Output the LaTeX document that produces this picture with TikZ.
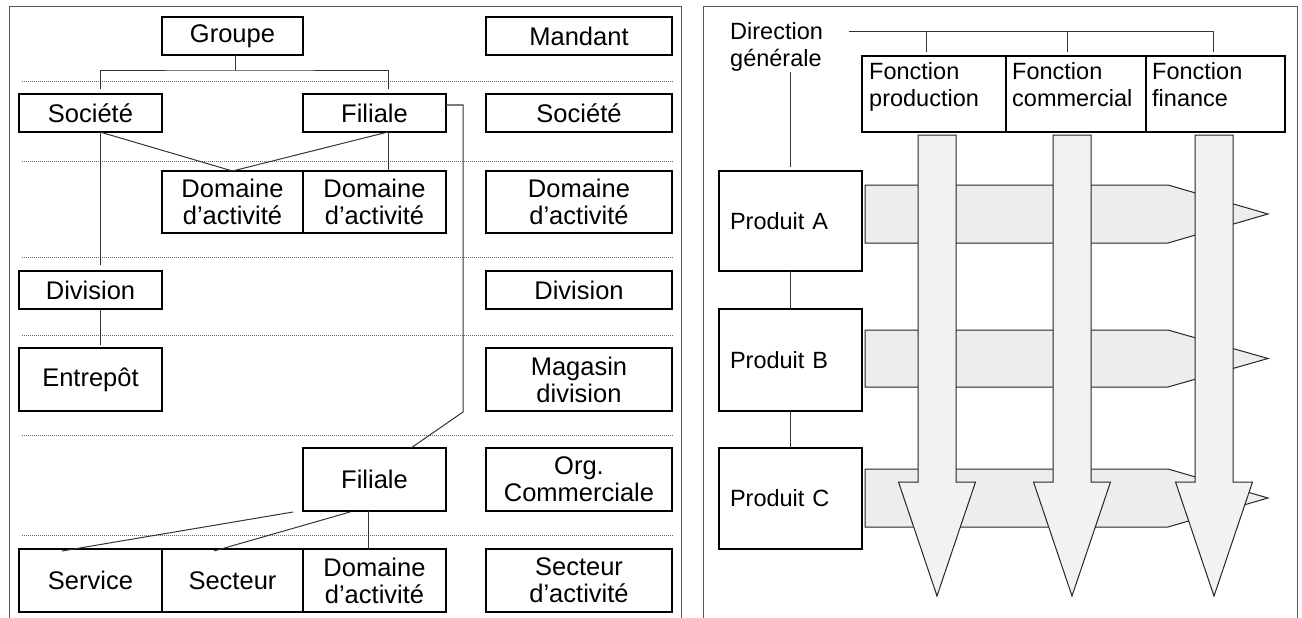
\documentclass[tikz,border=0pt]{standalone}
\usepackage{fontspec}
\setmainfont{Liberation Sans}
\begin{document}
\begin{tikzpicture}[x=1pt,y=-1pt,
  txtL/.style={font=\fontsize{25.5}{27}\selectfont},
  txtR/.style={font=\fontsize{23.5}{27}\selectfont},
  box/.style={draw, line width=1.8pt, inner sep=0pt, outer sep=0pt, align=center, txtL},
  rbox/.style={box, txtR},
  conn/.style={line width=1pt, black!80},
  sep/.style={line width=0.8pt, black!60, dash pattern=on 1pt off 1pt},
  frame/.style={line width=1pt, black!65},
  harrow/.style={draw=black!85, line width=1pt, fill=black!7, line join=miter},
  varrow/.style={draw=black!85, line width=1pt, fill=black!5, line join=miter}]
\useasboundingbox (0,0) rectangle (1302,618);

% frames
\draw[frame] (9,618) -- (9,7) -- (681,7) -- (681,618);
\draw[frame] (703,618) -- (703,7) -- (1297,7) -- (1297,618);

% separators
\foreach \yy in {81,161,257,335,435,535} \draw[sep] (22,\yy) -- (673,\yy);

% left panel boxes
\node[box, minimum width=141pt, minimum height=38pt] (groupe) at (232.5,36) {Groupe};
\node[box, minimum width=186pt, minimum height=38pt] (mandant) at (579,36) {Mandant};
\node[box, minimum width=143pt, minimum height=38pt] (societe) at (90.5,113) {Société};
\node[box, minimum width=143pt, minimum height=38pt] (filiale) at (374.5,113) {Filiale};
\node[box, minimum width=186pt, minimum height=38pt] (societeR) at (579,113) {Société};
\node[box, minimum width=141pt, minimum height=62pt] (dom1) at (232.5,202) {Domaine\\d’activité};
\node[box, minimum width=143pt, minimum height=62pt] (dom2) at (374.5,202) {Domaine\\d’activité};
\node[box, minimum width=186pt, minimum height=62pt] (domR) at (579,202) {Domaine\\d’activité};
\node[box, minimum width=143pt, minimum height=38pt] (division) at (90.5,290) {Division};
\node[box, minimum width=186pt, minimum height=38pt] (divisionR) at (579,290) {Division};
\node[box, minimum width=143pt, minimum height=63pt] (entrepot) at (90.5,379.5) {Entrepôt};
\node[box, minimum width=186pt, minimum height=63pt] (magasin) at (579,379.5) {Magasin\\division};
\node[box, minimum width=143pt, minimum height=63pt] (filiale2) at (374.5,479.5) {Filiale};
\node[box, minimum width=186pt, minimum height=63pt] (org) at (579,479.5) {Org.\\Commerciale};
\node[box, minimum width=143pt, minimum height=63pt] (service) at (90.5,580.5) {Service};
\node[box, minimum width=141pt, minimum height=63pt] (secteur) at (232.5,580.5) {Secteur};
\node[box, minimum width=143pt, minimum height=63pt] (dom4) at (374.5,580.5) {Domaine\\d’activité};
\node[box, minimum width=186pt, minimum height=63pt] (secteurR) at (579,580.5) {Secteur\\d’activité};

% left panel connectors
\draw[conn] ([xshift=2.5pt]groupe.south) -- ++(0,16) coordinate (gj);
\draw[conn] ([xshift=9.5pt,yshift=5pt]societe.north) |- (gj) -| ([xshift=13.5pt,yshift=5pt]filiale.north);
\draw[conn] ([xshift=9.5pt]societe.south) -- (dom1.north);
\draw[conn] ([xshift=13.5pt]filiale.south) -- (dom1.north);
\draw[conn] ([xshift=13.5pt]filiale.south) -- ([xshift=13.5pt]dom2.north);
\draw[conn] ([xshift=9.5pt]societe.south) -- ([xshift=9.5pt,yshift=6pt]division.north);
\draw[conn] ([xshift=9.5pt]division.south) -- ([xshift=9.5pt,yshift=3pt]entrepot.north);
\draw[conn] ([yshift=8pt]filiale.east) -- ++(17,0) -- ++(0,307) -- ([xshift=36.5pt]filiale2.north);
\draw[conn] ([xshift=-81.5pt,yshift=-1pt]filiale2.south) -- ([xshift=-28.5pt,yshift=-2pt]service.north);
\draw[conn] ([xshift=-24.5pt,yshift=-1pt]filiale2.south) -- ([xshift=-18.5pt,yshift=-2pt]secteur.north);
\draw[conn] ([xshift=-6.5pt]filiale2.south) -- ([xshift=-6.5pt]dom4.north);

% right panel
\node[txtR, anchor=north west, inner sep=0pt, align=left] (dirg) at (730,22.5) {Direction\\générale};
\node[rbox, minimum width=144pt, minimum height=76pt] (fbox1) at (934,94) {};
\node[rbox, minimum width=140pt, minimum height=76pt] (fbox2) at (1076,94) {};
\node[rbox, minimum width=139pt, minimum height=76pt] (fbox3) at (1215.5,94) {};
\node[txtR, anchor=north west, inner sep=0pt, align=left] (ft1) at ([xshift=7pt,yshift=-6pt]fbox1.north west) {Fonction\\production};
\node[txtR, anchor=north west, inner sep=0pt, align=left] (ft2) at ([xshift=6pt,yshift=-6pt]fbox2.north west) {Fonction\\commercial};
\node[txtR, anchor=north west, inner sep=0pt, align=left] (ft3) at ([xshift=6pt,yshift=-6pt]fbox3.north west) {Fonction\\finance};

\coordinate (dstart) at (849,32);
\draw[conn] (dstart) -| ([xshift=-2.5pt,yshift=4pt]fbox3.north);
\draw[conn] ([xshift=-8pt,yshift=4pt]fbox1.north) -- ++(0,-20);
\draw[conn] ([xshift=-9pt,yshift=4pt]fbox2.north) -- ++(0,-20);

\node[rbox, minimum width=143pt, minimum height=100pt, text width=121pt, align=left] (prodA) at (790.5,221) {Produit A};
\node[rbox, minimum width=143pt, minimum height=102pt, text width=121pt, align=left] (prodB) at (790.5,360) {Produit B};
\node[rbox, minimum width=143pt, minimum height=101pt, text width=121pt, align=left] (prodC) at (790.5,498.5) {Produit C};

\draw[conn] ([yshift=4pt]prodA.north) -- (prodA.north |- dirg.south);
\draw[conn] (prodA.south) -- (prodB.north);
\draw[conn] (prodB.south) -- (prodC.north);

% horizontal block arrows
\foreach \t/\b in {185/243, 330/387, 469/527}
  \draw[harrow] (865,\t) -- (1168,\t) -- (1268,{(\t+\b)/2}) -- (1168,\b) -- (865,\b) -- cycle;

% vertical block arrows
\foreach \c in {937,1072,1214}
  \draw[varrow] (\c-19,135) -- (\c+19,135) -- (\c+19,482) -- (\c+38.5,482) -- (\c,596) -- (\c-38.5,482) -- (\c-19,482) -- cycle;
\end{tikzpicture}
\end{document}
